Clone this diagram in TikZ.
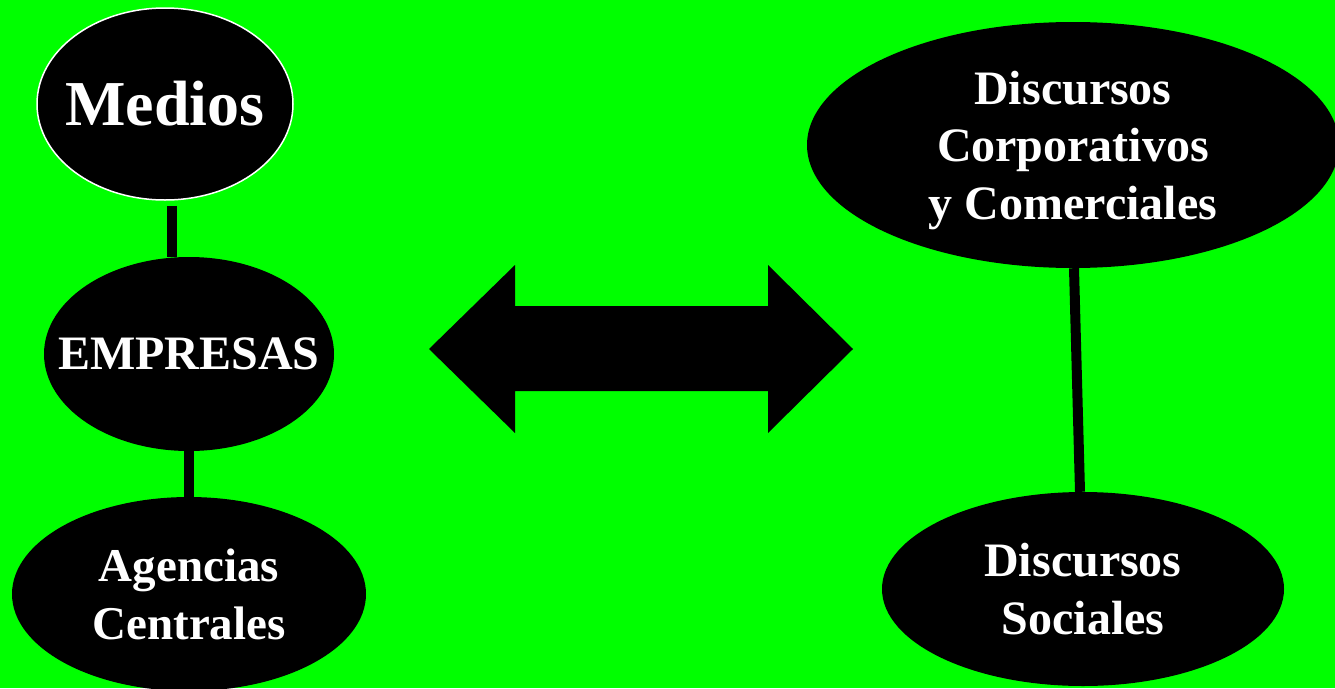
\documentclass[tikz,border=0pt]{standalone}
\usepackage{fontspec}
\setmainfont{Liberation Serif}
\usetikzlibrary{shapes.geometric}
\definecolor{bggreen}{RGB}{0,255,0}
\tikzset{
  ell/.style={ellipse, fill=black, inner sep=0pt, text=white, align=center},
  conn/.style={draw=black, line width=10pt},
}
\begin{document}
\begin{tikzpicture}[x=1pt,y=-1pt]
\fill[bggreen] (0,0) rectangle (1335,688);
\useasboundingbox (0,0) rectangle (1335,688);
% left column
\node[ell, draw=white, line width=1.5pt, minimum width=256pt, minimum height=192pt,
      font=\fontsize{64}{70}\selectfont\bfseries] (medios) at (165,104) {\makebox[0pt]{Medios}};
\node[ell, minimum width=290pt, minimum height=194pt,
      font=\fontsize{48}{58}\selectfont\bfseries] (empresas) at (189,354) {\makebox[0pt]{EMPRESAS}};
\node[ell, minimum width=354pt, minimum height=194pt,
      font=\fontsize{47}{58}\selectfont\bfseries] (agencias) at (189,594) {Agencias\\Centrales};
% right column
\node[ell, minimum width=532pt, minimum height=246pt,
      font=\fontsize{48}{57.5}\selectfont\bfseries] (corp) at (1073,145)
      {Discursos\\Corporativos\\\raisebox{0pt}[\height][0pt]{y Comerciales}};
\node[ell, minimum width=402pt, minimum height=194pt,
      font=\fontsize{48}{58}\selectfont\bfseries] (social) at (1083,589) {Discursos\\Sociales};
% connectors
\draw[conn] ([xshift=7pt,yshift=-5pt]medios.south) -- ([xshift=-17pt]empresas.north);
\draw[conn] (empresas.south) -- (agencias.north);
\draw[conn] ([xshift=1pt]corp.south) -- ([xshift=-3pt]social.north);
% double arrow
\fill[black] (429,349) -- (515,265) -- (515,306) -- (768,306) -- (768,265) -- (853,349)
  -- (768,433) -- (768,391) -- (515,391) -- (515,433) -- cycle;
\end{tikzpicture}
\end{document}
